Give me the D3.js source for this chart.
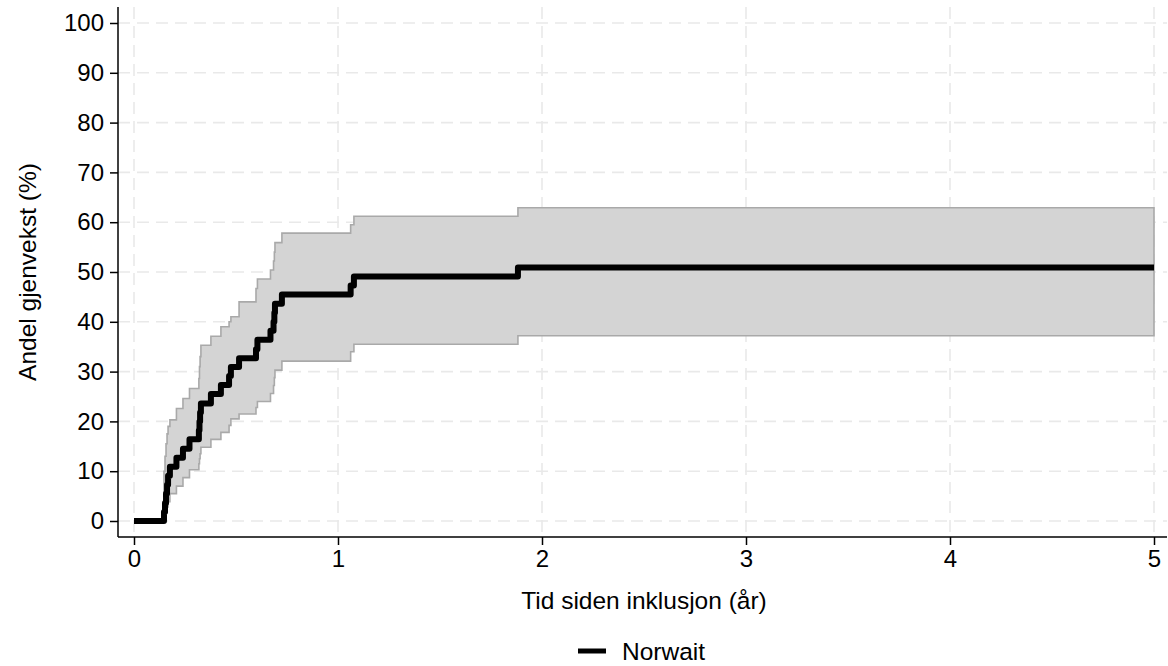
<!DOCTYPE html>
<html>
<head>
<meta charset="utf-8">
<script src="https://cdn.jsdelivr.net/npm/d3@7"></script>
<style>
  body { margin: 0; background: #fff; }
  text { font-family: "Liberation Sans", Arial, sans-serif; fill: #000; }
</style>
</head>
<body>
<div id="chart"></div>
<script>
// step times (years since inclusion) and cumulative incidence (%)
const kmTime = [0, 0.147, 0.152, 0.157, 0.162, 0.167, 0.176, 0.208, 0.240, 0.272,
  0.318, 0.321, 0.324, 0.328, 0.377, 0.426, 0.466, 0.475, 0.515, 0.598,
  0.605, 0.669, 0.684, 0.688, 0.691, 0.725, 1.062, 1.078, 1.882];
const kmEst = [0, 1.8, 3.6, 5.5, 7.3, 9.1, 10.9, 12.7, 14.5, 16.4,
  18.2, 20.0, 21.8, 23.6, 25.5, 27.3, 29.1, 30.9, 32.7, 34.5,
  36.4, 38.2, 40.0, 41.8, 43.6, 45.5, 47.3, 49.1, 50.9];
const kmLow = [0, 0.3, 0.9, 1.8, 2.8, 3.9, 5.5, 7.0, 8.7, 10.3,
  11.5, 12.5, 13.5, 14.8, 16.4, 17.8, 19.2, 20.5, 21.5, 22.8,
  24.0, 25.6, 27.2, 28.8, 30.3, 32.1, 34.0, 35.5, 37.2];
const kmHigh = [0, 10.0, 13.0, 15.5, 17.5, 19.0, 20.3, 22.6, 24.6, 26.6,
  28.6, 31.0, 33.0, 35.3, 37.1, 39.0, 40.0, 41.0, 44.0, 46.7,
  48.6, 50.4, 52.2, 54.0, 55.9, 57.8, 59.5, 61.2, 62.9];
const followUpEnd = 5;

const xTicks = [0, 1, 2, 3, 4, 5];
const yTicks = [0, 10, 20, 30, 40, 50, 60, 70, 80, 90, 100];
const seriesName = 'Norwait';

const width = 1168, height = 666;
const plot = { left: 118, right: 1167, top: 7, bottom: 537 };
const fontSize = '24px';
const titleSize = '24.5px';

const svg = d3.select('#chart').append('svg')
  .attr('width', width)
  .attr('height', height);

const xScale = d3.scaleLinear().domain([0, 5]).range([134, 1154]);
const yScale = d3.scaleLinear().domain([0, 100]).range([521, 23]);

// rows for the step functions, held to end of follow-up
const rows = kmTime.map((t, i) => ({ t: t, est: kmEst[i], lo: kmLow[i], hi: kmHigh[i] }));
rows.push(Object.assign({}, rows[rows.length - 1], { t: followUpEnd }));

// grid
const grid = svg.append('g').attr('class', 'grid')
  .attr('stroke', '#e9e9e9')
  .attr('stroke-width', 1.6)
  .attr('stroke-dasharray', '12,7');
grid.selectAll('.gy').data(yTicks).join('line')
  .attr('x1', plot.left).attr('x2', plot.right)
  .attr('y1', d => yScale(d)).attr('y2', d => yScale(d));
grid.selectAll('.gx').data(xTicks).join('line')
  .attr('y1', plot.top).attr('y2', plot.bottom)
  .attr('x1', d => xScale(d)).attr('x2', d => xScale(d));

// confidence band
const band = d3.area()
  .x(d => xScale(d.t))
  .y0(d => yScale(d.lo))
  .y1(d => yScale(d.hi))
  .curve(d3.curveStepAfter);
const bandRows = rows.filter(d => d.t >= kmTime[1]);
svg.append('path')
  .datum(bandRows)
  .attr('d', band)
  .attr('fill', '#d4d4d4')
  .attr('stroke', '#a9a9a9')
  .attr('stroke-width', 1.6);

// estimate
const line = d3.line()
  .x(d => xScale(d.t))
  .y(d => yScale(d.est))
  .curve(d3.curveStepAfter);
svg.append('path')
  .datum(rows)
  .attr('d', line)
  .attr('fill', 'none')
  .attr('stroke', '#000')
  .attr('stroke-width', 6)
  .attr('stroke-linejoin', 'round');

// axes
const yAxis = d3.axisLeft(yScale).tickValues(yTicks).tickSize(8).tickPadding(6);
const gy = svg.append('g')
  .attr('transform', 'translate(' + plot.left + ',0)')
  .call(yAxis);
gy.select('.domain').remove();
gy.append('line')
  .attr('x1', 0).attr('x2', 0)
  .attr('y1', plot.top).attr('y2', plot.bottom)
  .attr('stroke', '#000').attr('stroke-width', 1.5);

const xAxis = d3.axisBottom(xScale).tickValues(xTicks).tickFormat(d3.format('d'))
  .tickSize(8).tickPadding(5);
const gx = svg.append('g')
  .attr('transform', 'translate(0,' + plot.bottom + ')')
  .call(xAxis);
gx.select('.domain').remove();
gx.append('line')
  .attr('x1', plot.left).attr('x2', plot.right)
  .attr('y1', 0).attr('y2', 0)
  .attr('stroke', '#000').attr('stroke-width', 1.5);

[gx, gy].forEach(g => {
  g.selectAll('.tick line').attr('stroke', '#000').attr('stroke-width', 1.5);
  g.selectAll('.tick text')
    .style('font-size', fontSize)
    .style('font-family', '"Liberation Sans", Arial, sans-serif')
    .attr('fill', '#000');
});

// titles
svg.append('text')
  .attr('x', 644).attr('y', 600)
  .attr('dy', '0.35em')
  .attr('text-anchor', 'middle')
  .style('font-size', titleSize)
  .text('Tid siden inklusjon (år)');

svg.append('text')
  .attr('transform', 'translate(27,272) rotate(-90)')
  .attr('dy', '0.35em')
  .attr('text-anchor', 'middle')
  .style('font-size', titleSize)
  .text('Andel gjenvekst (%)');

// legend
const legend = svg.append('g').attr('transform', 'translate(578,651)');
legend.append('line')
  .attr('x1', 0).attr('x2', 28)
  .attr('stroke', '#000').attr('stroke-width', 5);
legend.append('text')
  .attr('x', 44).attr('y', 0)
  .attr('dy', '0.35em')
  .style('font-size', titleSize)
  .text(seriesName);
</script>
</body>
</html>
